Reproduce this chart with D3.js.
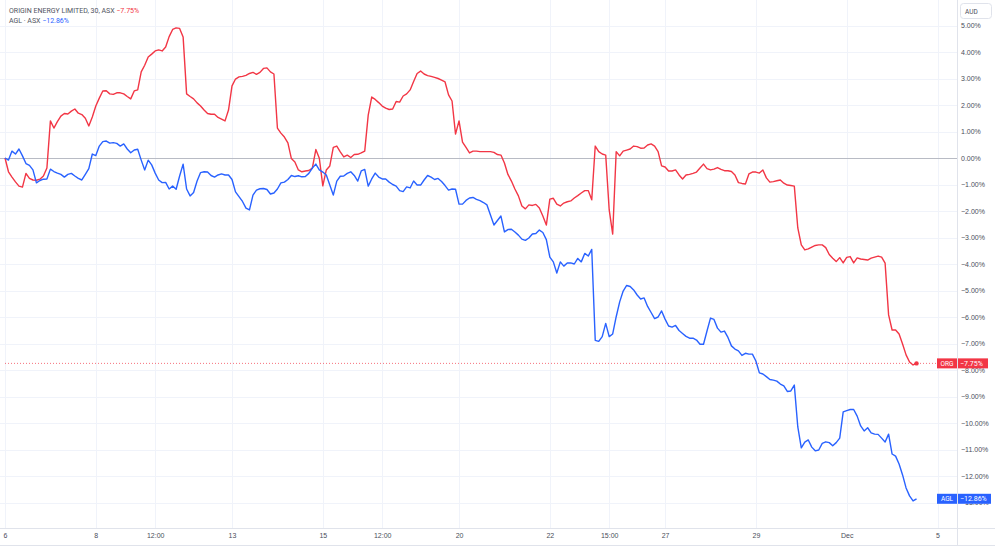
<!DOCTYPE html>
<html>
<head>
<meta charset="utf-8">
<script src="https://cdn.jsdelivr.net/npm/d3@7"></script>
<style>
  body { margin: 0; background: #fff; }
  svg { display: block; font-family: Roboto, "Noto Sans", sans-serif; }
  .grid line { stroke: #f0f3fa; shape-rendering: crispEdges; }
  .grid path { display: none; }
  .axis path, .axis line { display: none; }
  .axis text { fill: #4a4e5a; font-size: 7px; }
</style>
</head>
<body>
<div id="chart"></div>
<script>
"use strict";

// == data: % change per 30-minute bar ==
var orgValues = [
  0, -0.52, -0.72, -0.9, -1.06, -1.1, -0.58, -0.77, -0.83, -0.84,
  -0.8, -0.68, -0.38, 1.4, 1.13, 1.37, 1.58, 1.68, 1.66, 1.77,
  1.85, 1.69, 1.64, 1.5, 1.21, 1.55, 1.96, 2.26, 2.53, 2.54,
  2.42, 2.4, 2.46, 2.46, 2.42, 2.32, 2.23, 2.53, 2.57, 3.25,
  3.5, 3.81, 3.92, 4.04, 4.08, 4.04, 4.19, 4.58, 4.85, 4.91,
  4.89, 4.57, 2.42, 2.32, 2.23, 2.08, 1.96, 1.81, 1.68, 1.65,
  1.65, 1.53, 1.47, 1.4, 1.81, 2.72, 2.98, 3.06, 3.08, 3.12,
  3.19, 3.23, 3.16, 3.23, 3.38, 3.4, 3.25, 3.17, 1.13, 0.94,
  0.79, 0.57, -0.02, -0.15, -0.45, -0.52, -0.49, -0.47, -0.38, 0.32,
  -0.01, -1.05, -0.45, -0.3, 0.4, 0.45, 0.23, 0.04, 0.11, 0.02,
  0.13, 0.14, 0.19, 0.26, 1.62, 2.3, 2.21, 2.09, 1.96, 1.88,
  1.83, 1.85, 2.13, 2.11, 2.34, 2.42, 2.57, 2.89, 3.19, 3.28,
  3.17, 3.11, 3.08, 3.04, 3.0, 2.94, 2.87, 2.38, 2.15, 0.9,
  1.4, 0.6, 0.4, 0.19, 0.26, 0.26, 0.24, 0.24, 0.24, 0.24,
  0.21, 0.13, 0.11, -0.19, -0.62, -0.87, -1.17, -1.43, -1.81, -1.92,
  -1.77, -1.79, -1.75, -1.89, -2.19, -2.53, -1.55, -1.52, -1.74, -1.81,
  -1.7, -1.65, -1.62, -1.51, -1.42, -1.32, -1.23, -1.23, -1.58, 0.45,
  0.24, 0.15, 0.11, -1.96, -2.87, 0.24, 0.08, 0.26, 0.3, 0.34,
  0.45, 0.43, 0.37, 0.38, 0.49, 0.53, 0.45, 0.24, -0.3, -0.34,
  -0.49, -0.49, -0.45, -0.64, -0.79, -0.64, -0.62, -0.58, -0.53, -0.38,
  -0.23, -0.4, -0.45, -0.42, -0.36, -0.43, -0.48, -0.48, -0.51, -0.64,
  -0.93, -0.96, -0.98, -0.6, -0.53, -0.53, -0.57, -0.45, -0.75, -0.91,
  -0.89, -0.86, -0.83, -0.95, -1.02, -1.04, -1.06, -2.64, -3.28, -3.47,
  -3.43, -3.36, -3.3, -3.28, -3.28, -3.38, -3.64, -3.78, -3.91, -3.76,
  -3.96, -3.75, -3.72, -3.96, -3.77, -3.81, -3.83, -3.85, -3.78, -3.74,
  -3.7, -3.74, -3.97, -5.92, -6.49, -6.49, -6.64, -7.02, -7.43, -7.7,
  -7.81, -7.75
];

var aglValues = [
  0, -0.08, 0.26, 0.15, 0.34, 0.08, -0.21, -0.28, -0.45, -0.94,
  -0.85, -0.8, -0.79, -0.42, -0.51, -0.57, -0.62, -0.72, -0.62, -0.58,
  -0.68, -0.77, -0.83, -0.62, -0.4, 0.15, 0.09, 0.45, 0.62, 0.64,
  0.56, 0.58, 0.55, 0.45, 0.53, 0.34, 0.2, 0.3, 0.33, -0.08,
  -0.45, -0.08, -0.26, -0.57, -0.83, -0.93, -0.92, -1.17, -1.06, -1.18,
  -0.68, -0.23, -1.17, -1.43, -1.3, -0.87, -0.55, -0.52, -0.53, -0.66,
  -0.72, -0.64, -0.6, -0.64, -0.64, -0.81, -1.28, -1.46, -1.64, -1.89,
  -1.96, -1.4, -1.21, -1.16, -1.15, -1.19, -1.36, -1.32, -1.17, -0.94,
  -0.91, -0.81, -0.66, -0.7, -0.67, -0.71, -0.7, -0.58, -0.38, -0.23,
  -0.45, -0.53, -0.64, -1.02, -1.4, -0.87, -0.69, -0.68, -0.58, -0.52,
  -0.66, -0.87, -0.49, -0.43, -1.06, -0.79, -0.57, -0.72, -0.79, -0.79,
  -0.91, -1.0, -1.06, -1.23, -1.27, -1.09, -1.13, -0.87, -1.02, -1.02,
  -0.83, -0.66, -0.72, -0.81, -0.77, -0.89, -1.04, -1.21, -1.17, -1.18,
  -1.74, -1.74, -1.6, -1.51, -1.49, -1.56, -1.61, -1.68, -1.77, -2.15,
  -2.53, -2.36, -2.19, -2.79, -2.7, -2.69, -2.79, -2.91, -3.06, -3.11,
  -3.02, -2.87, -2.85, -2.72, -2.81, -3.08, -3.74, -3.92, -4.34, -3.92,
  -4.08, -3.96, -3.96, -4.0, -3.79, -3.92, -3.6, -3.7, -3.45, -6.88,
  -6.92, -6.74, -6.24, -6.74, -6.64, -5.99, -5.43, -5.02, -4.81, -4.85,
  -4.98, -5.17, -5.32, -5.28, -5.6, -5.83, -6.06, -6.0, -5.77, -6.08,
  -6.34, -6.38, -6.32, -6.51, -6.62, -6.73, -6.8, -6.8, -6.87, -7.03,
  -7.03, -6.53, -6.04, -6.09, -6.42, -6.57, -6.53, -6.77, -7.09, -7.21,
  -7.28, -7.45, -7.37, -7.4, -7.4, -7.66, -8.11, -8.15, -8.25, -8.36,
  -8.38, -8.42, -8.53, -8.6, -8.81, -8.79, -8.57, -10.15, -10.94, -10.72,
  -10.64, -10.91, -11.05, -11.02, -10.77, -10.71, -10.74, -10.86, -10.74, -10.57,
  -9.58, -9.53, -9.49, -9.49, -9.74, -10.11, -10.3, -10.18, -10.37, -10.42,
  -10.43, -10.57, -10.72, -10.42, -11.17, -11.25, -11.55, -11.96, -12.45, -12.75,
  -12.94, -12.86
];

// == time axis: bar index of each label ==
var xTickIndex = [0, 26, 43, 65, 91, 108, 130, 156, 173, 189, 215, 241, 267];
var xTickLabels = ["6", "8", "12:00", "13", "15", "12:00", "20", "22", "15:00", "27", "29", "Dec", "5"];

// == percent axis ==
var yTicks = [5, 4, 3, 2, 1, 0, -1, -2, -3, -4, -5, -6, -7, -8, -9, -10, -11, -12, -13];

var seriesNames = ["ORG", "AGL"];
var legendTitles = ["ORIGIN ENERGY LIMITED, 30, ASX", "AGL \u00b7 ASX"];
var lastValues = [-7.75, -12.86];
var seriesColors = ["#f23645", "#2962ff"];

var fmtPct = function (v) {
  var s = Math.abs(v).toFixed(2) + "%";
  return v < 0 ? "\u2212" + s : s;
};

var visualize = function () {
  var width = 1000, height = 549,
      plotRight = 957, plotBottom = 528;

  var svg = d3.select("#chart")
              .append("svg")
              .attr("width", width)
              .attr("height", height);

  var x = d3.scaleLinear().domain([0, 267]).range([5, 937.5]);
  var y = d3.scaleLinear().domain([0, -12]).range([158, 476]);

  // == grid ==
  svg.append("g")
     .attr("class", "grid")
     .call(d3.axisRight(y).tickValues(yTicks).tickFormat("").tickSize(plotRight));

  svg.append("g")
     .attr("class", "grid")
     .attr("transform", "translate(0," + plotBottom + ")")
     .call(d3.axisBottom(x).tickValues(xTickIndex).tickFormat("").tickSize(-plotBottom));

  // == frame ==
  var frame = svg.append("g")
                 .attr("stroke", "#e0e3eb")
                 .attr("shape-rendering", "crispEdges");
  frame.append("line").attr("x1", plotRight + 0.5).attr("x2", plotRight + 0.5)
       .attr("y1", 0).attr("y2", 545);
  frame.append("line").attr("x1", 0).attr("x2", 995)
       .attr("y1", plotBottom + 0.5).attr("y2", plotBottom + 0.5);
  frame.append("line").attr("x1", 0).attr("x2", 995)
       .attr("y1", 545.5).attr("y2", 545.5);

  // == zero line ==
  svg.append("line")
     .attr("x1", 0).attr("x2", plotRight)
     .attr("y1", Math.round(y(0)) + 0.5).attr("y2", Math.round(y(0)) + 0.5)
     .attr("stroke", "#b8bbc4");

  // == last value dotted line (ORG) ==
  svg.append("line")
     .attr("x1", 5).attr("x2", plotRight)
     .attr("y1", y(lastValues[0])).attr("y2", y(lastValues[0]))
     .attr("stroke", seriesColors[0])
     .attr("stroke-opacity", 0.7)
     .attr("stroke-dasharray", "1,2");

  // == series lines ==
  var line = d3.line()
               .x(function (d, i) { return x(i); })
               .y(function (d) { return y(d); });

  [orgValues, aglValues].forEach(function (vals, k) {
    svg.append("path")
       .datum(vals)
       .attr("d", line)
       .attr("fill", "none")
       .attr("stroke", seriesColors[k])
       .attr("stroke-width", 1.4)
       .attr("stroke-linejoin", "round");
  });

  svg.append("circle")
     .attr("cx", x(orgValues.length - 1))
     .attr("cy", y(orgValues[orgValues.length - 1]))
     .attr("r", 2.2)
     .attr("fill", seriesColors[0]);

  // == axes ==
  svg.append("g")
     .attr("class", "axis")
     .attr("transform", "translate(" + (plotRight + 4) + ",0)")
     .call(d3.axisRight(y).tickValues(yTicks).tickSize(0).tickPadding(0).tickFormat(fmtPct));

  svg.append("g")
     .attr("class", "axis")
     .attr("transform", "translate(0," + (plotBottom + 2) + ")")
     .call(d3.axisBottom(x).tickValues(xTickIndex).tickSize(0).tickPadding(3)
             .tickFormat(function (d, i) { return xTickLabels[i]; }));

  // == currency box ==
  svg.append("rect")
     .attr("x", 960.5).attr("y", 3.5).attr("width", 31).attr("height", 15)
     .attr("rx", 3)
     .attr("fill", "#fff").attr("stroke", "#e0e3eb");
  svg.append("text")
     .attr("x", 965).attr("y", 13.5)
     .attr("font-size", 6.5).attr("fill", "#4a4e5a")
     .text("AUD");

  // == last value tags ==
  lastValues.forEach(function (v, k) {
    var cy = y(v);
    var tag = svg.append("g").attr("transform", "translate(0," + cy + ")");
    tag.append("rect")
       .attr("x", 937).attr("y", -5).attr("width", 20).attr("height", 10)
       .attr("fill", seriesColors[k]);
    tag.append("text")
       .attr("x", 947).attr("y", 2.3)
       .attr("text-anchor", "middle")
       .attr("font-size", 6.5).attr("fill", "#fff")
       .text(seriesNames[k]);
    tag.append("rect")
       .attr("x", 958).attr("y", -5).attr("width", k === 0 ? 30 : 33).attr("height", 10)
       .attr("fill", seriesColors[k]);
    tag.append("text")
       .attr("x", 960).attr("y", 2.4)
       .attr("font-size", 7).attr("fill", "#fff")
       .text(fmtPct(v));
  });

  // == legend ==
  var legend = svg.append("g").attr("font-size", 7);
  legendTitles.forEach(function (t, k) {
    var txt = legend.append("text")
                    .attr("x", 9).attr("y", 12.5 + k * 10);
    txt.append("tspan").attr("fill", "#50535e").text(t + " ");
    txt.append("tspan").attr("fill", seriesColors[k]).text(" " + fmtPct(lastValues[k]));
  });
};

visualize();
</script>
</body>
</html>
